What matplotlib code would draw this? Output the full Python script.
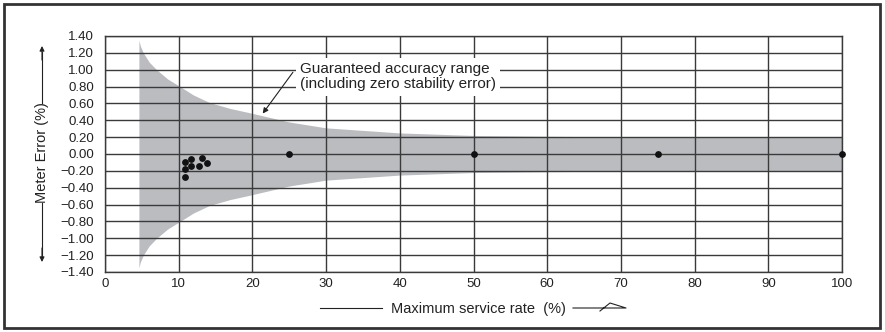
import matplotlib
matplotlib.use("Agg")
import matplotlib.pyplot as plt
from matplotlib.lines import Line2D
from matplotlib.patches import Rectangle

plt.rcParams['font.family'] = ['Liberation Sans', 'DejaVu Sans']

# guaranteed accuracy envelope
env_x = [4.6, 4.8, 5.2, 6.0, 7.0, 8.5, 10, 12, 14.2, 17, 19.6, 25, 30, 40, 50, 60, 75, 100]
env_upper = [1.35, 1.28, 1.20, 1.09, 1.00, 0.89, 0.81, 0.70, 0.61, 0.54, 0.49, 0.38, 0.31, 0.25, 0.22, 0.21, 0.20, 0.20]
env_lower = [-v for v in env_upper]

# measured meter errors
rate = [10.8, 11.7, 13.1, 10.8, 11.7, 12.8, 13.8, 10.9, 25, 50, 75, 100]
error = [-0.10, -0.06, -0.05, -0.18, -0.14, -0.14, -0.11, -0.27, 0.0, 0.0, 0.0, 0.0]

x_ticks = list(range(0, 101, 10))
y_ticks = [round(-1.4 + 0.2 * i, 2) for i in range(15)]

fig = plt.figure(figsize=(8.85, 3.32), dpi=100)
W, H = 885, 332
ax = fig.add_axes([105 / W, (H - 272) / H, (842 - 105) / W, (272 - 36) / H])

grid_c = '#3a3a3a'
ax.fill_between(env_x, env_lower, env_upper, color='#bbbcc0', lw=0, zorder=1)
ax.scatter(rate, error, s=15, color='#111111', zorder=4, clip_on=False)

ax.set_xlim(0, 100)
ax.set_ylim(-1.4, 1.4)
ax.set_xticks(x_ticks)
ax.set_yticks(y_ticks)
ax.set_yticklabels([f"{v:.2f}".replace('-', '\u2212') for v in y_ticks])
ax.tick_params(length=0, labelsize=9.5, colors='#222222')
ax.tick_params(axis='y', pad=8)
ax.tick_params(axis='x', pad=4)
ax.grid(True, color=grid_c, lw=1.0, zorder=2)
ax.set_axisbelow(False)
for s in ax.spines.values():
    s.set_color(grid_c)
    s.set_linewidth(1.0)

# label box with leader arrow
ax.text(26.5, 0.915, "Guaranteed accuracy range\n(including zero stability error)",
        fontsize=11, ha='left', va='center', color='#222222', linespacing=1.1,
        bbox=dict(facecolor='white', edgecolor='none', pad=3), zorder=5)
ax.annotate("", xy=(21.4, 0.48), xytext=(25.5, 0.97),
            arrowprops=dict(arrowstyle='-|>', color='#222222', lw=0.8,
                            mutation_scale=8, shrinkA=0, shrinkB=0), zorder=5)

# outer frame
fig.patches.append(Rectangle((4 / W, 4 / H), (880 - 4) / W, (328 - 4) / H,
                             transform=fig.transFigure, fill=False,
                             edgecolor='#333333', lw=2))

def fx(px):
    return px / W

def fy(py):
    return (H - py) / H

# x-axis title with decorative lines
fig.text(fx(478), fy(309), "Maximum service rate  (%)", fontsize=10.5, ha='center',
         va='center', color='#222222')
fig.add_artist(Line2D([fx(320), fx(382)], [fy(308), fy(308)], color='#222222', lw=0.8))
fig.add_artist(Line2D([fx(573), fx(626), fx(610), fx(600)],
                      [fy(308), fy(308), fy(303), fy(311)], color='#222222', lw=0.8))

# y-axis title with arrows
fig.text(fx(42), fy(153), "Meter Error (%)", fontsize=10.5, rotation=90, ha='center',
         va='center', color='#222222')
fig.add_artist(Line2D([fx(42), fx(42)], [fy(52), fy(103)], color='#222222', lw=0.8))
fig.add_artist(Line2D([fx(42), fx(42)], [fy(203), fy(256)], color='#222222', lw=0.8))
ax.annotate("", xy=(fx(42), fy(46)), xytext=(fx(42), fy(60)), xycoords='figure fraction',
            textcoords='figure fraction',
            arrowprops=dict(arrowstyle='-|>', color='#222222', lw=0.8, mutation_scale=7,
                            shrinkA=0, shrinkB=0))
ax.annotate("", xy=(fx(42), fy(262)), xytext=(fx(42), fy(248)), xycoords='figure fraction',
            textcoords='figure fraction',
            arrowprops=dict(arrowstyle='-|>', color='#222222', lw=0.8, mutation_scale=7,
                            shrinkA=0, shrinkB=0))

fig.savefig("out.png", dpi=100)
